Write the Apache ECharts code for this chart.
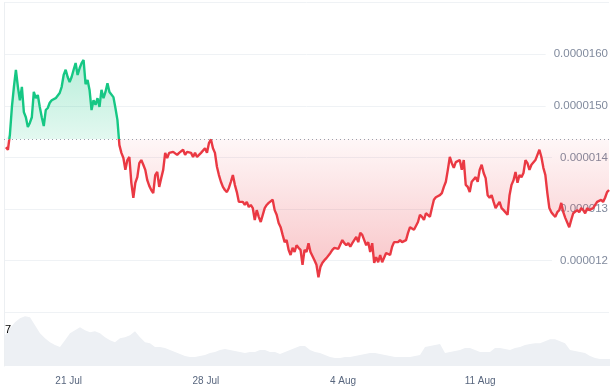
<!DOCTYPE html>
<html>
<head>
<meta charset="utf-8">
<script src="https://cdn.jsdelivr.net/npm/echarts@6/dist/echarts.min.js"></script>
<style>
  html, body { margin: 0; padding: 0; background: #fff; }
  #chart { width: 612px; height: 392px; }
</style>
</head>
<body>
<div id="chart"></div>
<script>
// ---- data ----
// x positions are in "days counted from 1 Jul" (21 = 21 Jul, 35 = 4 Aug)
const xTickDays = [21, 28, 35, 42];
const xTickLabels = ['21 Jul', '28 Jul', '4 Aug', '11 Aug'];

// price in millionths of a dollar (14.36 -> 0.00001436)
const yTickValues = [12, 13, 14, 15, 16];
const yTickLabels = ['0.000012', '0.000013', '0.000014', '0.0000150', '0.0000160'];
const baseline = 14.36;            // reference (opening) price

const priceStartDay = 17.80;
const priceStepDay = 0.10209;
const price = [
  14.20, 14.15, 14.45, 14.98, 15.37, 15.70, 15.37, 15.11, 15.37, 14.88,
  14.78, 14.59, 14.67, 14.78, 15.27, 15.15, 15.21, 14.98, 14.78, 14.61,
  14.92, 14.96, 15.06, 15.11, 15.08, 15.15, 15.15, 15.25, 15.37, 15.60,
  15.70, 15.56, 15.46, 15.56, 15.70, 15.83, 15.60, 15.73, 15.83, 15.89,
  15.42, 15.50, 15.31, 14.92, 15.11, 15.02, 15.15, 14.98, 15.31, 15.15,
  15.27, 15.44, 15.27, 15.25, 15.17, 14.96, 14.73, 14.24, 14.09, 13.99,
  13.76, 13.95, 14.01, 13.51, 13.22, 13.51, 13.62, 13.89, 13.95, 13.86,
  13.76, 13.56, 13.45, 13.37, 13.31, 13.66, 13.72, 13.43, 13.60, 13.76,
  14.09, 13.99, 14.09, 14.09, 14.11, 14.09, 14.05, 14.09, 14.07, 14.15,
  14.05, 14.11, 14.13, 14.09, 14.01, 14.09, 14.01, 14.05, 14.09, 14.11,
  14.18, 14.09, 14.28, 14.35, 14.18, 14.09, 13.82, 13.66, 13.53, 13.43,
  13.37, 13.33, 13.41, 13.53, 13.66, 13.47, 13.33, 13.14, 13.12, 13.14,
  13.08, 13.14, 13.04, 13.08, 13.02, 12.79, 12.98, 12.85, 12.75, 12.75,
  13.02, 13.08, 13.12, 13.14, 13.18, 12.98, 12.89, 12.73, 12.65, 12.50,
  12.36, 12.40, 12.21, 12.11, 12.25, 12.17, 12.30, 12.25, 12.21, 11.92,
  12.21, 12.17, 12.34, 12.17, 12.15, 12.01, 11.92, 11.68, 11.88, 11.96,
  12.01, 12.05, 12.07, 12.15, 12.21, 12.25, 12.25, 12.23, 12.25, 12.40,
  12.34, 12.30, 12.34, 12.27, 12.34, 12.36, 12.46, 12.36, 12.54, 12.50,
  12.40, 12.30, 12.36, 12.17, 12.34, 11.96, 12.07, 11.97, 12.11, 11.97,
  11.96, 12.15, 12.17, 12.11, 12.27, 12.36, 12.36, 12.36, 12.40, 12.36,
  12.34, 12.40, 12.54, 12.65, 12.63, 12.60, 12.60, 12.75, 12.89, 12.85,
  12.79, 12.92, 12.94, 12.85, 13.02, 13.18, 13.23, 13.22, 13.27, 13.31,
  13.43, 13.53, 13.76, 14.01, 13.89, 13.80, 13.91, 13.89, 13.95, 13.76,
  13.95, 13.47, 13.43, 13.33, 13.53, 13.56, 13.62, 13.53, 13.76, 13.86,
  13.70, 13.60, 13.27, 13.22, 13.27, 13.14, 13.02, 13.08, 13.14, 13.02,
  12.98, 12.98, 12.89, 13.27, 13.47, 13.56, 13.72, 13.51, 13.66, 13.62,
  13.70, 13.95, 13.89, 13.76, 13.86, 13.89, 13.95, 14.05, 14.15, 14.01,
  13.80, 13.66, 13.31, 13.02, 12.94, 12.89, 12.85, 12.94, 12.98, 13.12,
  12.94, 12.83, 12.85, 12.65, 12.79, 12.92, 12.89, 12.98, 12.94, 13.02,
  12.98, 12.92, 13.02, 12.98, 12.98, 13.02, 13.04, 13.14, 13.12, 13.18,
  13.14, 13.22, 13.33, 13.37
];

const volStartDay = 17.75;
const volStepDay = 0.2552;
const volume = [
  31, 38, 44, 48, 50, 49, 41, 33, 28, 24,
  21, 19, 26, 33, 36, 39, 36, 34, 35, 33,
  29, 26, 24, 28, 29, 31, 35, 29, 24, 23,
  19, 19, 18, 16, 14, 12, 10, 9, 9, 10,
  11, 13, 14, 16, 17, 16, 15, 14, 13, 14,
  14, 16, 16, 14, 14, 12, 14, 16, 18, 20,
  20, 16, 14, 13, 11, 9, 8, 8, 9, 9,
  10, 11, 12, 13, 13, 12, 11, 10, 9, 9,
  9, 9, 10, 11, 19, 20, 21, 22, 13, 14,
  15, 16, 18, 18, 16, 14, 14, 14, 18, 18,
  17, 16, 18, 19, 21, 22, 23, 23, 25, 27,
  27, 25, 23, 16, 15, 14, 13, 10, 8, 7,
  7, 7
];

// ---- chart ----
const GREEN = '#16c784';
const RED = '#ea3943';
const FONT = "'Liberation Sans', Arial, sans-serif";
const X_MIN = 17.70, X_MAX = 48.73;

const pricePts = price.map((v, i) => [priceStartDay + i * priceStepDay, v]);
const greenPts = pricePts.map(p => [p[0], Math.max(p[1], baseline)]);
const redPts = pricePts.map(p => [p[0], Math.min(p[1], baseline)]);
const volPts = volume.map((v, i) => [volStartDay + i * volStepDay, v]);

const chart = echarts.init(document.getElementById('chart'), null, { renderer: 'canvas' });

chart.setOption({
  animation: false,
  backgroundColor: '#ffffff',
  textStyle: { fontFamily: FONT },
  grid: [
    { left: 4, right: 0, top: 2.7, height: 309.6 },
    { left: 4, right: 0, top: 312.3, height: 53.7 }
  ],
  xAxis: [
    {
      type: 'value', gridIndex: 0, min: X_MIN, max: X_MAX,
      axisLine: { show: false }, axisTick: { show: false },
      axisLabel: { show: false }, splitLine: { show: false }
    },
    {
      type: 'value', gridIndex: 1, min: X_MIN, max: X_MAX,
      axisLine: { show: false }, axisTick: { show: false },
      splitLine: { show: false },
      axisLabel: {
        customValues: xTickDays,
        formatter: v => {
          const k = xTickDays.indexOf(Math.round(v));
          return k >= 0 ? xTickLabels[k] : '';
        },
        margin: 10, fontSize: 10, color: '#58667e', fontFamily: FONT
      }
    }
  ],
  yAxis: [
    {
      type: 'value', gridIndex: 0, position: 'right', min: 11, max: 17, interval: 1,
      axisLine: { show: false }, axisTick: { show: false },
      splitLine: { show: true, lineStyle: { color: '#eff2f5', width: 1 } },
      axisLabel: {
        inside: true, margin: 0,
        showMinLabel: false, showMaxLabel: false,
        formatter: v => {
          const k = yTickValues.indexOf(Math.round(v));
          return k >= 0 ? yTickLabels[k] : '';
        },
        color: '#808a9d', fontSize: 11.5, fontFamily: FONT,
        backgroundColor: '#ffffff', padding: [2, 1, 2, 8]
      }
    },
    {
      type: 'value', gridIndex: 0, position: 'left', min: 11, max: 17,
      axisLine: { show: true, lineStyle: { color: '#eceff2', width: 1 } },
      axisTick: { show: false }, axisLabel: { show: false }, splitLine: { show: false }
    },
    {
      type: 'value', gridIndex: 1, position: 'left', min: 0, max: 54,
      axisLine: { show: true, lineStyle: { color: '#eceff2', width: 1 } },
      axisTick: { show: false }, axisLabel: { show: false }, splitLine: { show: false }
    }
  ],
  visualMap: {
    type: 'piecewise', show: false, seriesIndex: 2, dimension: 1,
    pieces: [
      { gt: 0, lte: baseline, color: RED },
      { gt: baseline, lte: 100, color: GREEN }
    ]
  },
  series: [
    {
      name: 'up area', type: 'line', xAxisIndex: 0, yAxisIndex: 0,
      data: greenPts, showSymbol: false, silent: true,
      lineStyle: { width: 0, opacity: 0 },
      areaStyle: {
        origin: baseline,
        color: {
          type: 'linear', x: 0, y: 0, x2: 0, y2: 1,
          colorStops: [
            { offset: 0, color: 'rgba(22,199,132,0.30)' },
            { offset: 1, color: 'rgba(22,199,132,0.12)' }
          ]
        },
        opacity: 1
      }
    },
    {
      name: 'down area', type: 'line', xAxisIndex: 0, yAxisIndex: 0,
      data: redPts, showSymbol: false, silent: true,
      lineStyle: { width: 0, opacity: 0 },
      areaStyle: {
        origin: baseline,
        color: {
          type: 'linear', x: 0, y: 0, x2: 0, y2: 1,
          colorStops: [
            { offset: 0, color: 'rgba(234,57,67,0.04)' },
            { offset: 1, color: 'rgba(234,57,67,0.30)' }
          ]
        },
        opacity: 1
      }
    },
    {
      name: 'price', type: 'line', xAxisIndex: 0, yAxisIndex: 0,
      data: pricePts, showSymbol: false,
      lineStyle: { width: 2.4 },
      markLine: {
        silent: true, symbol: ['none', 'none'],
        label: { show: false },
        lineStyle: { type: [1, 3], color: '#9aa1ad', width: 1 },
        data: [{ yAxis: baseline }]
      }
    },
    {
      name: 'volume', type: 'line', xAxisIndex: 1, yAxisIndex: 2,
      data: volPts, showSymbol: false, silent: true,
      lineStyle: { width: 0, opacity: 0 },
      areaStyle: { color: '#edf0f4', opacity: 1 }
    }
  ],
  graphic: [
    {
      type: 'text', left: 5, top: 324, z: 100,
      style: { text: '7', fill: '#000000', fontSize: 11, fontFamily: FONT }
    }
  ]
});
</script>
</body>
</html>
